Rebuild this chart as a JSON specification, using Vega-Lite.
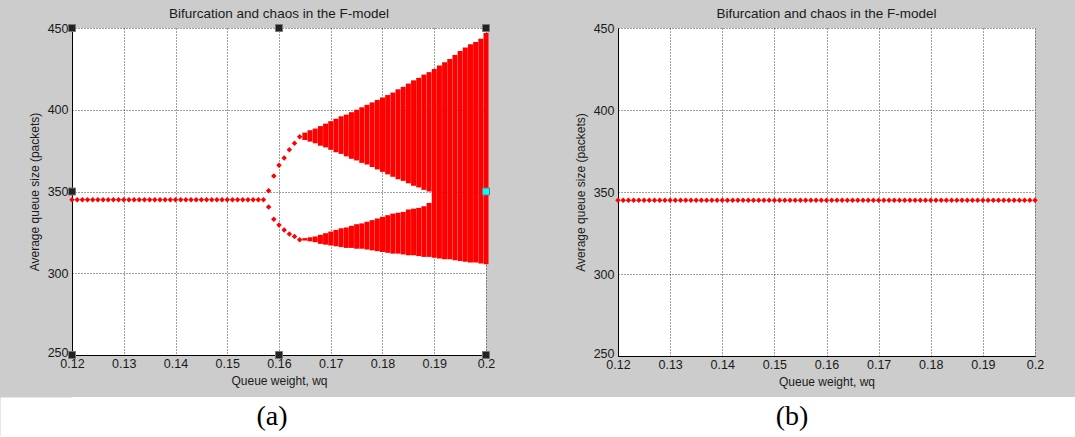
{
  "$schema": "https://vega.github.io/schema/vega-lite/v6.json",
  "background": "#cccccc",
  "padding": {"left": 28, "top": 7, "right": 0, "bottom": 0},
  "spacing": 9,
  "datasets": {
    "pointsA": [
      {"w":0.120,"q":345},{"w":0.121,"q":345},{"w":0.122,"q":345},{"w":0.123,"q":345},{"w":0.124,"q":345},{"w":0.125,"q":345},{"w":0.126,"q":345},{"w":0.127,"q":345},{"w":0.128,"q":345},{"w":0.129,"q":345},
      {"w":0.130,"q":345},{"w":0.131,"q":345},{"w":0.132,"q":345},{"w":0.133,"q":345},{"w":0.134,"q":345},{"w":0.135,"q":345},{"w":0.136,"q":345},{"w":0.137,"q":345},{"w":0.138,"q":345},{"w":0.139,"q":345},
      {"w":0.140,"q":345},{"w":0.141,"q":345},{"w":0.142,"q":345},{"w":0.143,"q":345},{"w":0.144,"q":345},{"w":0.145,"q":345},{"w":0.146,"q":345},{"w":0.147,"q":345},{"w":0.148,"q":345},{"w":0.149,"q":345},
      {"w":0.150,"q":345},{"w":0.151,"q":345},{"w":0.152,"q":345},{"w":0.153,"q":345},{"w":0.154,"q":345},{"w":0.155,"q":345},{"w":0.156,"q":345},{"w":0.157,"q":345},
      {"w":0.158,"q":350.5},{"w":0.158,"q":340.5},
      {"w":0.159,"q":359.5},{"w":0.159,"q":333},
      {"w":0.160,"q":366},{"w":0.160,"q":329.5},
      {"w":0.161,"q":370.5},{"w":0.161,"q":326.5},
      {"w":0.162,"q":375.5},{"w":0.162,"q":324},
      {"w":0.163,"q":379.5},{"w":0.163,"q":322.5},
      {"w":0.164,"q":383.5},{"w":0.164,"q":320.5}
    ],
    "bandsA": [
      {"w":0.165,"q":381.5,"q2":386},{"w":0.166,"q":380.5,"q2":387.5},{"w":0.167,"q":379.5,"q2":388.5},{"w":0.168,"q":378,"q2":390},{"w":0.169,"q":377,"q2":391.5},
      {"w":0.170,"q":375.5,"q2":393},{"w":0.171,"q":374,"q2":394.5},{"w":0.172,"q":373,"q2":396},{"w":0.173,"q":371.5,"q2":397},{"w":0.174,"q":370,"q2":398.5},
      {"w":0.175,"q":369,"q2":400},{"w":0.176,"q":367.5,"q2":401.5},{"w":0.177,"q":366.5,"q2":403},{"w":0.178,"q":365,"q2":404.5},{"w":0.179,"q":363.5,"q2":406},
      {"w":0.180,"q":362,"q2":407.5},{"w":0.181,"q":360.5,"q2":409},{"w":0.182,"q":359,"q2":410.5},{"w":0.183,"q":357.5,"q2":412.5},{"w":0.184,"q":356.5,"q2":414},
      {"w":0.185,"q":355,"q2":416},{"w":0.186,"q":353.5,"q2":418},{"w":0.187,"q":352.5,"q2":419.5},{"w":0.188,"q":351,"q2":421.5},{"w":0.189,"q":350,"q2":423},
      {"w":0.165,"q":320,"q2":321.5},{"w":0.166,"q":319.5,"q2":322},{"w":0.167,"q":319,"q2":322.5},{"w":0.168,"q":318,"q2":323.5},{"w":0.169,"q":317.5,"q2":324.5},
      {"w":0.170,"q":317,"q2":325.5},{"w":0.171,"q":316.5,"q2":326.5},{"w":0.172,"q":316,"q2":327.5},{"w":0.173,"q":315.5,"q2":328},{"w":0.174,"q":315.5,"q2":329},
      {"w":0.175,"q":315,"q2":330},{"w":0.176,"q":315,"q2":330.5},{"w":0.177,"q":314.5,"q2":331.5},{"w":0.178,"q":314,"q2":332.5},{"w":0.179,"q":313.5,"q2":333.5},
      {"w":0.180,"q":313,"q2":334.5},{"w":0.181,"q":312.5,"q2":335.5},{"w":0.182,"q":312,"q2":336.5},{"w":0.183,"q":312,"q2":337},{"w":0.184,"q":311.5,"q2":337.5},
      {"w":0.185,"q":311,"q2":339},{"w":0.186,"q":311,"q2":339.5},{"w":0.187,"q":310.5,"q2":340},{"w":0.188,"q":310,"q2":341},{"w":0.189,"q":310,"q2":343},
      {"w":0.190,"q":309.5,"q2":425},{"w":0.191,"q":309,"q2":427},{"w":0.192,"q":308.5,"q2":429},{"w":0.193,"q":308.5,"q2":431},{"w":0.194,"q":308,"q2":433.5},
      {"w":0.195,"q":307.5,"q2":436},{"w":0.196,"q":307,"q2":438},{"w":0.197,"q":306.5,"q2":440},{"w":0.198,"q":306.5,"q2":441.5},{"w":0.199,"q":306,"q2":443.5},
      {"w":0.200,"q":305.5,"q2":447}
    ],
    "handles": [
      {"w":0.12,"q":450,"kind":"black"},{"w":0.16,"q":450,"kind":"black"},{"w":0.2,"q":450,"kind":"black"},
      {"w":0.12,"q":350,"kind":"black"},{"w":0.12,"q":250,"kind":"black"},{"w":0.16,"q":250,"kind":"black"},
      {"w":0.2,"q":250,"kind":"black"},{"w":0.2,"q":350,"kind":"cyan"}
    ],
    "pointsB": [
      {"w":0.120,"q":345},{"w":0.121,"q":345},{"w":0.122,"q":345},{"w":0.123,"q":345},{"w":0.124,"q":345},{"w":0.125,"q":345},{"w":0.126,"q":345},{"w":0.127,"q":345},{"w":0.128,"q":345},{"w":0.129,"q":345},
      {"w":0.130,"q":345},{"w":0.131,"q":345},{"w":0.132,"q":345},{"w":0.133,"q":345},{"w":0.134,"q":345},{"w":0.135,"q":345},{"w":0.136,"q":345},{"w":0.137,"q":345},{"w":0.138,"q":345},{"w":0.139,"q":345},
      {"w":0.140,"q":345},{"w":0.141,"q":345},{"w":0.142,"q":345},{"w":0.143,"q":345},{"w":0.144,"q":345},{"w":0.145,"q":345},{"w":0.146,"q":345},{"w":0.147,"q":345},{"w":0.148,"q":345},{"w":0.149,"q":345},
      {"w":0.150,"q":345},{"w":0.151,"q":345},{"w":0.152,"q":345},{"w":0.153,"q":345},{"w":0.154,"q":345},{"w":0.155,"q":345},{"w":0.156,"q":345},{"w":0.157,"q":345},{"w":0.158,"q":345},{"w":0.159,"q":345},
      {"w":0.160,"q":345},{"w":0.161,"q":345},{"w":0.162,"q":345},{"w":0.163,"q":345},{"w":0.164,"q":345},{"w":0.165,"q":345},{"w":0.166,"q":345},{"w":0.167,"q":345},{"w":0.168,"q":345},{"w":0.169,"q":345},
      {"w":0.170,"q":345},{"w":0.171,"q":345},{"w":0.172,"q":345},{"w":0.173,"q":345},{"w":0.174,"q":345},{"w":0.175,"q":345},{"w":0.176,"q":345},{"w":0.177,"q":345},{"w":0.178,"q":345},{"w":0.179,"q":345},
      {"w":0.180,"q":345},{"w":0.181,"q":345},{"w":0.182,"q":345},{"w":0.183,"q":345},{"w":0.184,"q":345},{"w":0.185,"q":345},{"w":0.186,"q":345},{"w":0.187,"q":345},{"w":0.188,"q":345},{"w":0.189,"q":345},
      {"w":0.190,"q":345},{"w":0.191,"q":345},{"w":0.192,"q":345},{"w":0.193,"q":345},{"w":0.194,"q":345},{"w":0.195,"q":345},{"w":0.196,"q":345},{"w":0.197,"q":345},{"w":0.198,"q":345},{"w":0.199,"q":345},
      {"w":0.200,"q":345}
    ],
    "captions": [{"label":"(a)"},{"label":"(b)"}]
  },
  "vconcat": [
    {
      "hconcat": [
        {
          "width": 414,
          "height": 327,
          "title": "Bifurcation and chaos in the F-model",
          "encoding": {
            "x": {"field":"w","type":"quantitative","scale":{"domain":[0.12,0.2],"nice":false,"zero":false},"axis":{"title":"Queue weight, wq","values":[0.12,0.13,0.14,0.15,0.16,0.17,0.18,0.19,0.2],"format":".2~f"}},
            "y": {"field":"q","type":"quantitative","scale":{"domain":[250,450],"nice":false,"zero":false},"axis":{"title":"Average queue size (packets)","values":[250,300,350,400,450],"labelOffset":{"condition":{"test":"datum.value == 250","value":-3},"value":0}}}
          },
          "layer": [
            {"data":{"name":"bandsA"},"mark":{"type":"rule","color":"#ff0000","strokeWidth":5},"encoding":{"y2":{"field":"q2"}}},
            {"data":{"name":"pointsA"},"mark":{"type":"point","shape":"diamond","filled":true,"color":"#ff0000","size":30,"opacity":1}},
            {"data":{"name":"handles"},"mark":{"type":"square","size":49,"filled":true,"opacity":1,"stroke":"#777777","strokeWidth":1},
             "encoding":{"color":{"field":"kind","type":"nominal","scale":{"domain":["black","cyan"],"range":["#222222","#00ffff"]},"legend":null}}}
          ]
        },
        {
          "width": 417,
          "height": 328,
          "title": "Bifurcation and chaos in the F-model",
          "data": {"name":"pointsB"},
          "mark": {"type":"point","shape":"diamond","filled":true,"color":"#ff0000","size":30,"opacity":1},
          "encoding": {
            "x": {"field":"w","type":"quantitative","scale":{"domain":[0.12,0.2],"nice":false,"zero":false},"axis":{"title":"Queue weight, wq","values":[0.12,0.13,0.14,0.15,0.16,0.17,0.18,0.19,0.2],"format":".2~f"}},
            "y": {"field":"q","type":"quantitative","scale":{"domain":[250,450],"nice":false,"zero":false},"axis":{"title":"Average queue size (packets)","values":[250,300,350,400,450],"labelOffset":{"condition":{"test":"datum.value == 250","value":-3},"value":0}}}
          }
        }
      ],
      "spacing": 79
    },
    {
      "width": 1003,
      "height": 39,
      "data": {"name":"captions"},
      "mark": {"type":"text","font":"Liberation Serif","fontSize":28,"color":"#000000","baseline":"middle"},
      "encoding": {
        "x": {"field":"label","type":"nominal","scale":{"type":"point","domain":["(a)","(b)"],"range":[200,720],"padding":0},"axis":null},
        "y": {"datum":"caption","type":"nominal","scale":{"type":"band","paddingInner":0,"paddingOuter":0},
              "axis":{"orient":"left","title":null,"labels":false,"ticks":false,"grid":false,"domain":true,"domainColor":"#ffffff","domainWidth":144,"domainCap":"butt"}},
        "text": {"field":"label"}
      }
    }
  ],
  "config": {
    "view": {"fill":"#ffffff","stroke":null},
    "title": {"font":"Liberation Sans","fontSize":13.5,"fontWeight":"normal","color":"#1a1a1a","baseline":"bottom","offset":1.5},
    "axis": {"domainColor":"#000000","domainWidth":1,"ticks":false,"tickSize":0,"grid":true,"gridColor":"#000000","gridDash":[1,2],"gridOpacity":0.75,
             "labelFont":"Liberation Sans","labelFontSize":12.5,"labelColor":"#1a1a1a","titleFont":"Liberation Sans","titleFontSize":12,"titleFontWeight":"normal","titleColor":"#1a1a1a"},
    "axisX": {"labelPadding":2,"titlePadding":6,"labelFlush":false},
    "axisY": {"labelPadding":4,"titlePadding":6}
  }
}
